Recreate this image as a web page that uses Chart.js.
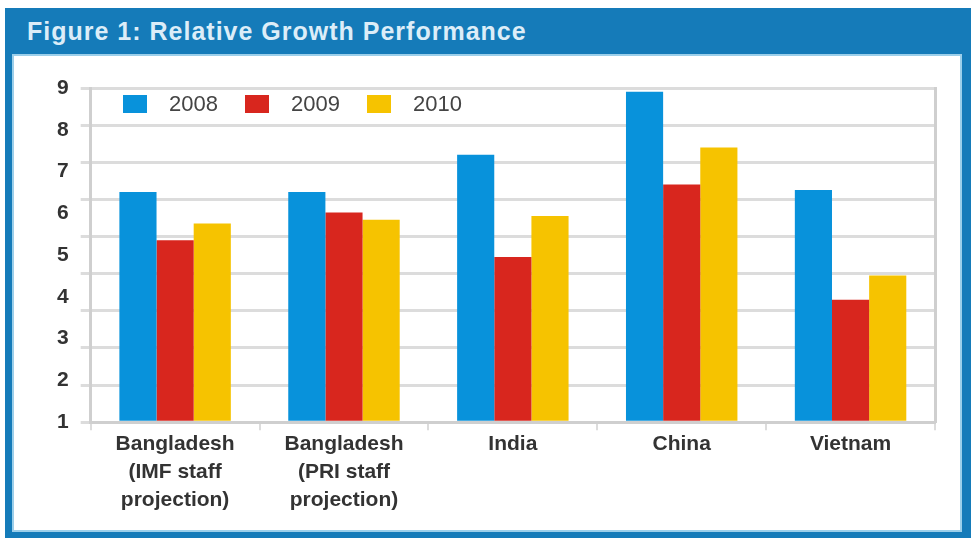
<!DOCTYPE html>
<html>
<head>
<meta charset="utf-8">
<script src="https://cdn.jsdelivr.net/npm/chart.js@4.4.1/dist/chart.umd.min.js"></script>
<style>
  body { margin: 0; background: #fff; font-family: "Liberation Sans", Arial, sans-serif; }
  #frame { position: absolute; left: 5px; top: 8px; width: 966px; height: 530px; background: #157bb9; }
  #title { position: absolute; left: 22px; top: 0; height: 46px; line-height: 46px; color: #dcedf8;
           font-weight: bold; font-size: 25px; letter-spacing: 1px; white-space: nowrap; }
  #panel { position: absolute; left: 9px; top: 48px; width: 946px; height: 474px; background: #fff;
           box-shadow: 0 0 0 2px #9ccfea; }
  #chart { position: absolute; left: 0; top: 0; }
  #legend { position: absolute; left: 109px; top: 39px; display: flex; }
  .item { width: 122px; display: flex; align-items: center; height: 18px; }
  .swatch { width: 24px; height: 18px; margin-right: 22px; }
  .label { font-size: 22px; color: #444; }
</style>
</head>
<body>
<div id="frame">
  <div id="title">Figure 1: Relative Growth Performance</div>
  <div id="panel">
    <canvas id="chart" width="946" height="474"></canvas>
    <div id="legend"></div>
  </div>
</div>
<script>
// GDP growth by country, percent
const categories = [
    ['Bangladesh', '(IMF staff', 'projection)'],
    ['Bangladesh', '(PRI staff', 'projection)'],
    'India', 'China', 'Vietnam'
];
const years = ['2008', '2009', '2010'];
const growth2008 = [6.2, 6.2, 7.2, 8.9, 6.25];
const growth2009 = [4.9, 5.65, 4.45, 6.4, 3.3];
const growth2010 = [5.35, 5.45, 5.55, 7.4, 3.95];
const yTickLabels = ['1', '2', '3', '4', '5', '6', '7', '8', '9'];

const colors = ['#0892db', '#d8261e', '#f6c300'];
const gridGrey = '#dcdcdc';

const chart = new Chart(document.getElementById('chart'), {
    type: 'bar',
    data: {
        labels: categories,
        datasets: [growth2008, growth2009, growth2010].map(function(values, i) {
            return {
                label: years[i],
                data: values,
                backgroundColor: colors[i],
                borderWidth: 0,
                categoryPercentage: 0.66,
                barPercentage: 1.0
            };
        })
    },
    options: {
        responsive: false,
        animation: false,
        layout: { padding: { left: 31, right: 25, top: 32, bottom: 16 } },
        plugins: {
            legend: { display: false },
            tooltip: { enabled: false }
        },
        scales: {
            x: {
                offset: true,
                grid: { drawOnChartArea: false, drawTicks: true, tickLength: 8, color: gridGrey, lineWidth: 2 },
                border: { display: true, color: '#cfcfcf', width: 3 },
                ticks: {
                    color: '#333',
                    padding: 0,
                    maxRotation: 0,
                    autoSkip: false,
                    font: { family: '"Liberation Sans", Arial, sans-serif', size: 21, weight: 'bold', lineHeight: 1.33 }
                }
            },
            y: {
                position: 'left',
                weight: 0,
                min: 0,
                max: 9,
                ticks: { stepSize: 1, display: false },
                grid: { color: gridGrey, lineWidth: 3, tickLength: 10 },
                border: { display: true, color: '#cfcfcf', width: 3 }
            },
            yLabels: {
                position: 'left',
                weight: 1,
                min: 1,
                max: 9,
                grid: { display: false, drawTicks: false },
                border: { display: false },
                ticks: {
                    stepSize: 1,
                    padding: 12,
                    color: '#333',
                    font: { family: '"Liberation Sans", Arial, sans-serif', size: 21, weight: 'bold' },
                    callback: function(value) { return yTickLabels[value - 1]; }
                }
            },
            yRight: {
                position: 'right',
                min: 0,
                max: 9,
                ticks: { display: false },
                grid: { display: false, drawTicks: false },
                border: { display: true, color: '#cfcfcf', width: 3 }
            }
        }
    }
});

// legend row drawn over the top of the plot area
const legend = document.getElementById('legend');
chart.data.datasets.forEach(function(ds) {
    const item = document.createElement('div');
    item.className = 'item';
    item.innerHTML = '<span class="swatch" style="background:' + ds.backgroundColor + '"></span>' +
                     '<span class="label">' + ds.label + '</span>';
    legend.appendChild(item);
});
</script>
</body>
</html>
